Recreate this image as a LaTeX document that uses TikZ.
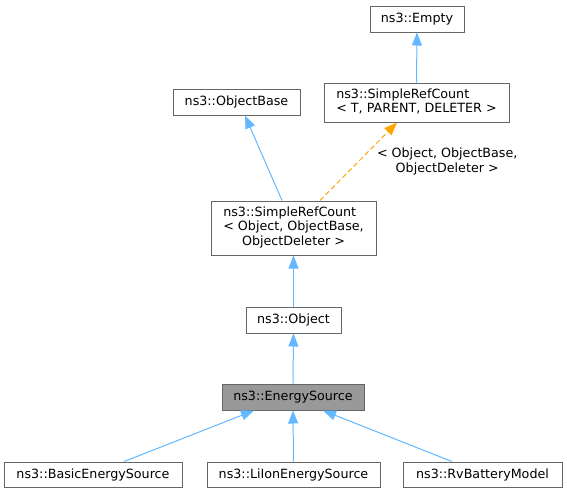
\documentclass[tikz,border=0pt]{standalone}
\usepackage{fontspec}
\setmainfont{DejaVu Sans}
\usepackage{xcolor}
\usetikzlibrary{arrows.meta}
\definecolor{edgeblue}{HTML}{63B8FF}
\definecolor{edgeorange}{HTML}{FFA500}
\definecolor{boxgray}{HTML}{666666}
\definecolor{curgray}{HTML}{999999}

\begin{document}
\begin{tikzpicture}[x=1pt, y=-1pt,
	classbox/.style={font=\fontsize{12.7}{14.5}\selectfont, draw=boxgray, line width=1pt, minimum height=26, inner sep=0, align=center},
	inherit/.style={draw=edgeblue, line width=1pt, -{Triangle[length=13pt, width=10pt]}},
	templ/.style={draw=edgeorange, line width=1pt, dash pattern=on 5pt off 3pt, -{Triangle[length=13pt, width=10pt]}}
]
\useasboundingbox (0,0) rectangle (567,493);

\node[classbox, minimum width=94] (empty) at (417,19) {ns3::Empty};
\node[classbox, minimum width=185, minimum height=39] (srct) at (416.5,102.5) {\begin{tabular}{@{}l@{}}ns3::SimpleRefCount\\\multicolumn{1}{@{}c@{}}{< T, PARENT, DELETER >}\end{tabular}};
\node[classbox, minimum width=127] (objbase) at (236.5,102) {ns3::ObjectBase};
\node[classbox, minimum width=165, minimum height=54] (srcobj) at (293.5,228) {\begin{tabular}{@{}l@{}}ns3::SimpleRefCount\\< Object, ObjectBase,\\\multicolumn{1}{@{}c@{}}{ObjectDeleter >}\end{tabular}};
\node[classbox, minimum width=95] (object) at (293.5,320) {ns3::Object};
\node[classbox, minimum width=142, fill=curgray] (esrc) at (293,397) {ns3::EnergySource};
\node[classbox, minimum width=178, minimum height=25] (basic) at (93,474.5) {ns3::BasicEnergySource};
\node[classbox, minimum width=173, minimum height=25] (liion) at (293.5,474.5) {ns3::LiIonEnergySource};
\node[classbox, minimum width=159, minimum height=25] (rvbat) at (482.5,474.5) {ns3::RvBatteryModel};

\draw[inherit] (srct.north) -- (empty.south);
\draw[inherit] ([xshift=-11.5]srcobj.north) -- ([xshift=8.5]objbase.south);
\draw[templ] ([xshift=26.5]srcobj.north) -- ([xshift=-19.5]srct.south)
	node[pos=0.5, anchor=west, xshift=18, inner sep=0, align=center, font=\fontsize{12.7}{14.5}\selectfont] {< Object, ObjectBase,\\ObjectDeleter >};
\draw[inherit] (object.north) -- (srcobj.south);
\draw[inherit] (esrc.north) -- (object.south);
\draw[inherit] ([xshift=31]basic.north) -- ([xshift=-39]esrc.south);
\draw[inherit] (liion.north) -- (esrc.south);
\draw[inherit] ([xshift=-30.5]rvbat.north) -- ([xshift=30]esrc.south);
\end{tikzpicture}
\end{document}
